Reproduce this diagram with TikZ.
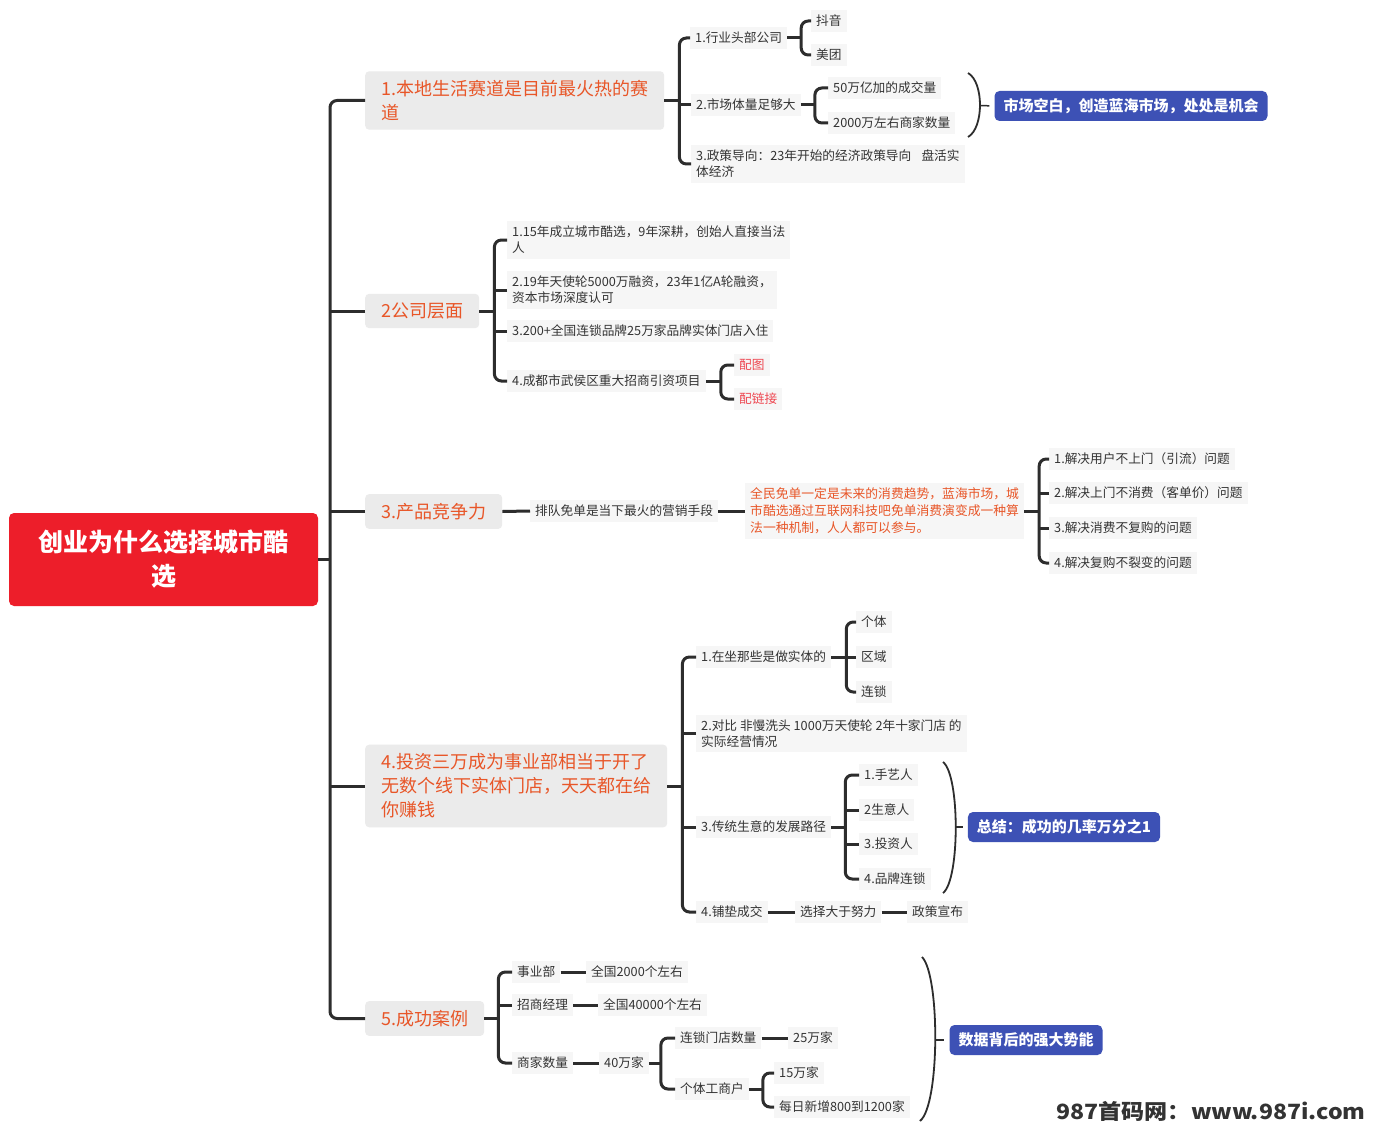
\documentclass[tikz,border=0pt]{standalone}
\usepackage{fontspec}
\newfontfamily\cjk{Noto Sans CJK SC}
\usetikzlibrary{calc}
\definecolor{linec}{RGB}{45,45,45}
\definecolor{txt}{RGB}{51,51,51}
\definecolor{leafbg}{RGB}{246,246,246}
\definecolor{brbg}{RGB}{235,235,235}
\definecolor{orng}{RGB}{232,86,40}
\definecolor{rootred}{RGB}{237,30,42}
\definecolor{bluebox}{RGB}{61,81,181}
\definecolor{pinkred}{RGB}{238,72,82}
\tikzset{
 conn/.style={draw=linec,line width=3pt},
 brk/.style={conn,rounded corners=7pt},
 paren/.style={draw=linec,line width=1.8pt},
 thintick/.style={draw=linec,line width=1.5pt,shorten >=5pt},
 leaf/.style={anchor=west,fill=leafbg,text=txt,font=\cjk\fontsize{12.7}{16}\selectfont,inner xsep=5pt,inner ysep=5pt,align=left},
 branch/.style={anchor=west,fill=brbg,rounded corners=4pt,text=orng,font=\cjk\fontsize{18}{24}\selectfont,inner xsep=16pt,inner ysep=9pt,align=left},
 summary/.style={fill=bluebox,text=white,rounded corners=5pt,font=\cjk\bfseries\fontsize{15}{18}\selectfont,minimum height=30pt,inner xsep=9pt},
}
\newcommand\mybrk[4]{%
 \coordinate (K) at ([xshift=#2]#1.east);
 \draw[conn] (#1.east) -- (K);
 \draw[brk] (#3.west) -| (K) |- (#4.west);
}
\newcommand\mytick[1]{\draw[conn] (#1.west) -- (#1.west -| K);}
\begin{document}
\begin{tikzpicture}[x=1pt,y=-1pt]
\fill[white] (0,0) rectangle (1374,1129);
\useasboundingbox (0,0) rectangle (1374,1129);

% root
\node[fill=rootred,rounded corners=5pt,text=white,font=\cjk\bfseries\fontsize{25}{34}\selectfont,align=center,minimum width=309pt,minimum height=93pt] (root) at (163.5,559.5) {创业为什么选择城市酷\\选};

% branches
\node[branch] (B1) at (365,100.5) {1.本地生活赛道是目前最火热的赛\\道};
\node[branch] (B2) at (365,311) {2公司层面};
\node[branch] (B3) at (365,511.5) {3.产品竞争力};
\node[branch] (B4) at (365,786) {4.投资三万成为事业部相当于开了\\无数个线下实体门店，天天都在给\\你赚钱};
\node[branch] (B5) at (365,1018.5) {5.成功案例};

\coordinate (T) at (330,559.5);
\draw[conn] (root.east) -- (T);
\draw[brk] (B1.west) -| (T) |- (B5.west);
\foreach \m in {B2,B3,B4}{\draw[conn] (\m.west) -- (\m.west -| T);}

% ---- branch 1
\node[leaf] (l11) at (690,38) {1.行业头部公司};
\node[leaf] (l12) at (691,105) {2.市场体量足够大};
\node[leaf] (l13) at (691,164) {3.政策导向：23年开始的经济政策导向\hspace{0.8em}盘活实\\体经济};
\mybrk{B1}{15pt}{l11}{l13}
\mytick{l12}
\node[leaf] (l111) at (811,21) {抖音};
\node[leaf] (l112) at (811,55) {美团};
\mybrk{l11}{14pt}{l111}{l112}
\node[leaf] (l121) at (828,88) {50万亿加的成交量};
\node[leaf] (l122) at (828,123) {2000万左右商家数量};
\mybrk{l12}{14pt}{l121}{l122}
\node[summary] (S1) at (1131,106) {市场空白，创造蓝海市场，处处是机会};
\draw[paren] (968,73) .. controls (984,82) and (984,128) .. (968,137);
\coordinate (A1) at (980,105.5);
\draw[thintick] (A1) -- (S1.west);

% ---- branch 2
\node[leaf] (l21) at (507,240) {1.15年成立城市酷选，9年深耕，创始人直接当法\\人};
\node[leaf] (l22) at (507,290) {2.19年天使轮5000万融资，23年1亿A轮融资，\\资本市场深度认可};
\node[leaf] (l23) at (507,331) {3.200+全国连锁品牌25万家品牌实体门店入住};
\node[leaf] (l24) at (507,381) {4.成都市武侯区重大招商引资项目};
\mybrk{B2}{15pt}{l21}{l24}
\mytick{l22}
\mytick{l23}
\node[leaf,text=pinkred] (l241) at (734,365) {配图};
\node[leaf,text=pinkred] (l242) at (734,399) {配链接};
\mybrk{l24}{15pt}{l241}{l242}

% ---- branch 3
\node[leaf] (l31) at (530,511) {排队免单是当下最火的营销手段};
\node[leaf,text=orng,font=\cjk\fontsize{12.8}{17}\selectfont] (l32) at (745,511) {全民免单一定是未来的消费趋势，蓝海市场，城\\市酷选通过互联网科技吧免单消费演变成一种算\\法一种机制，人人都可以参与。};
\draw[conn] (B3.east) -- (l31.west);
\draw[conn] (l31.east) -- (l32.west);
\node[leaf] (l33) at (1049,459) {1.解决用户不上门（引流）问题};
\node[leaf] (l34) at (1049,493) {2.解决上门不消费（客单价）问题};
\node[leaf] (l35) at (1049,528) {3.解决消费不复购的问题};
\node[leaf] (l36) at (1049,563) {4.解决复购不裂变的问题};
\mybrk{l32}{15pt}{l33}{l36}
\mytick{l34}
\mytick{l35}

% ---- branch 4
\node[leaf] (l41) at (696,657) {1.在坐那些是做实体的};
\node[leaf] (l42) at (696,733.5) {2.对比 非慢洗头 1000万天使轮 2年十家门店 的\\实际经营情况};
\node[leaf] (l43) at (696,827) {3.传统生意的发展路径};
\node[leaf] (l44) at (696,912) {4.铺垫成交};
\mybrk{B4}{15pt}{l41}{l44}
\mytick{l42}
\mytick{l43}
\node[leaf] (l411) at (856,622) {个体};
\node[leaf] (l412) at (856,657) {区域};
\node[leaf] (l413) at (856,692) {连锁};
\mybrk{l41}{15pt}{l411}{l413}
\mytick{l412}
\node[leaf] (l431) at (859,775) {1.手艺人};
\node[leaf] (l432) at (859,810) {2生意人};
\node[leaf] (l433) at (859,844) {3.投资人};
\node[leaf] (l434) at (859,879) {4.品牌连锁};
\mybrk{l43}{14pt}{l431}{l434}
\mytick{l432}
\mytick{l433}
\node[leaf] (l441) at (795,912) {选择大于努力};
\node[leaf] (l442) at (907,912) {政策宣布};
\draw[conn] (l44.east) -- (l441.west);
\draw[conn] (l441.east) -- (l442.west);
\node[summary] (S2) at (1064,827) {总结：成功的几率万分之1};
\draw[paren] (943,762) .. controls (960,775) and (960,880) .. (943,893);
\coordinate (A2) at (955.5,827);
\draw[thintick] (A2) -- (S2.west);

% ---- branch 5
\node[leaf] (l51) at (512,972) {事业部};
\node[leaf] (l52) at (512,1005) {招商经理};
\node[leaf] (l53) at (512,1063) {商家数量};
\mybrk{B5}{14pt}{l51}{l53}
\mytick{l52}
\node[leaf] (l511) at (586,972) {全国2000个左右};
\node[leaf] (l521) at (598,1005) {全国40000个左右};
\node[leaf] (l531) at (599,1063) {40万家};
\draw[conn] (l51.east) -- (l511.west);
\draw[conn] (l52.east) -- (l521.west);
\draw[conn] (l53.east) -- (l531.west);
\node[leaf] (l5311) at (675,1038) {连锁门店数量};
\node[leaf] (l5312) at (675,1089) {个体工商户};
\mybrk{l531}{12pt}{l5311}{l5312}
\node[leaf] (l53111) at (788,1038) {25万家};
\draw[conn] (l5311.east) -- (l53111.west);
\node[leaf] (l53121) at (774,1073) {15万家};
\node[leaf] (l53122) at (774,1107) {每日新增800到1200家};
\mybrk{l5312}{14pt}{l53121}{l53122}
\node[summary] (S3) at (1026,1040) {数据背后的强大势能};
\draw[paren] (922,957) .. controls (940,975) and (940,1105) .. (920,1121);
\coordinate (A3) at (935,1040);
\draw[thintick] (A3) -- (S3.west);

% watermark
\node[font=\cjk\bfseries\fontsize{21}{24}\selectfont,text=black!80] (wm) at (1211,1111) {\scalebox{1.1}[1]{987首码网：www.987i.com}};
\end{tikzpicture}
\end{document}
